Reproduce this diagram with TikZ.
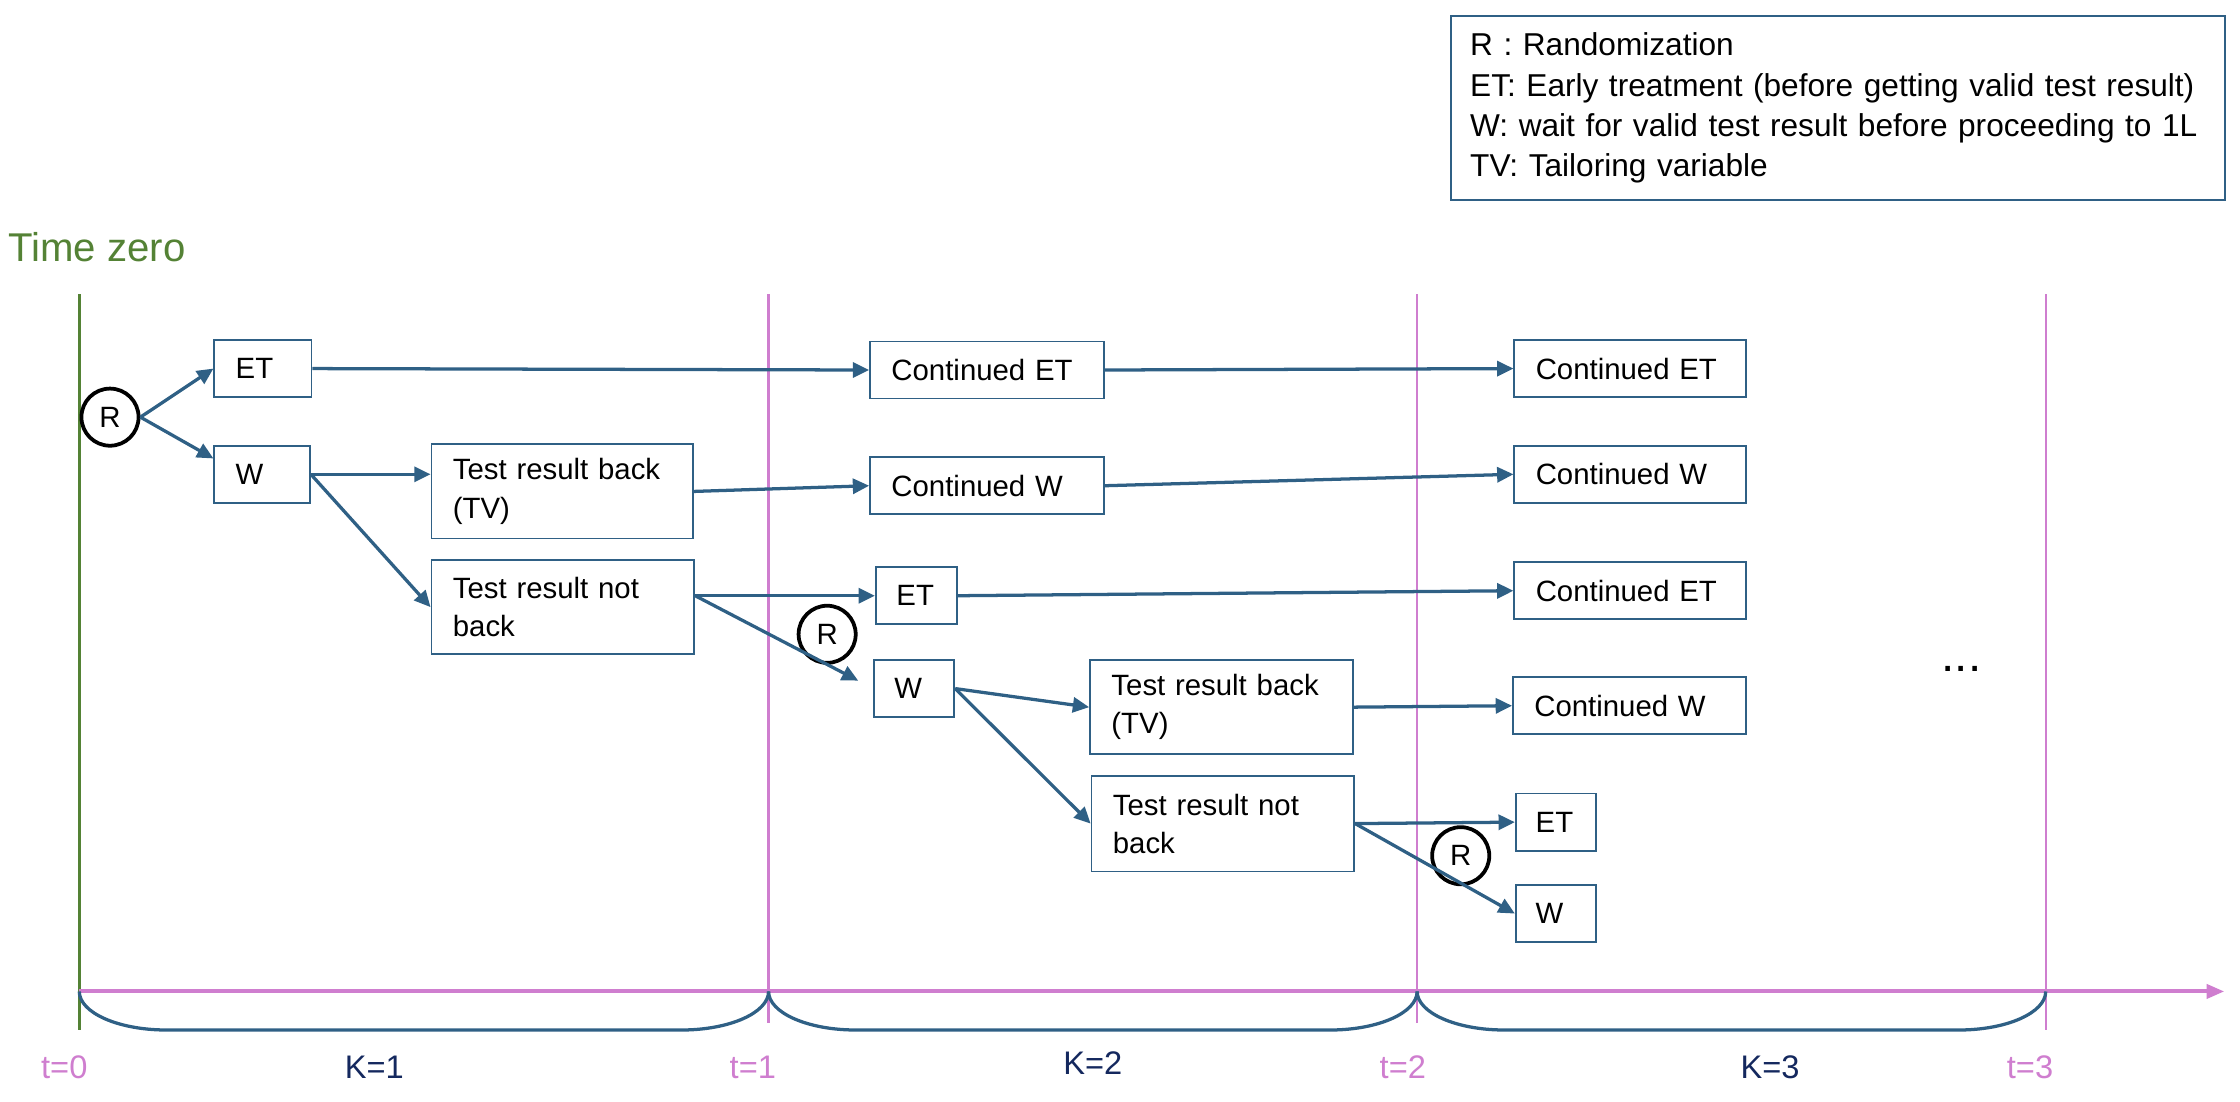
\documentclass[tikz,border=0pt]{standalone}
\usepackage{fontspec}
\setmainfont{Liberation Sans}
\usepackage{xcolor}
\usetikzlibrary{arrows.meta}

\definecolor{boxblue}{HTML}{2F6085}
\definecolor{timegreen}{HTML}{548235}
\definecolor{tpink}{HTML}{CF7ECF}
\definecolor{knavy}{HTML}{14285E}

\begin{document}
\begin{tikzpicture}[x=0.02cm, y=-0.02cm,
    stage/.style={draw=boxblue, line width=0.7pt, inner xsep=0.3cm, inner ysep=0pt,
        minimum height=0.8cm, text width=#1, align=left, font=\fontsize{11.7}{15.2}\selectfont},
    rand/.style={circle, draw=black, line width=1.5pt, minimum size=0.8cm, inner sep=0pt,
        font=\fontsize{11.7}{14}\selectfont},
    flow/.style={draw=boxblue, line width=1.3pt, -{Triangle[length=6.5pt, width=6pt]}},
    period/.style={draw=boxblue, line width=1.3pt},
    tick/.style={draw=tpink, line width=0.9pt},
    tlabel/.style={text=tpink, inner sep=0pt, font=\fontsize{13}{15}\selectfont},
    klabel/.style={text=knavy, inner sep=0pt, font=\fontsize{13}{15}\selectfont}]

    \useasboundingbox (0,0) rectangle (1568,771);

    % time axis
    \coordinate (t0) at (55.5,694);
    \coordinate (t1) at (538,694);
    \coordinate (t2) at (992,694);
    \coordinate (t3) at (1432,694);
    \coordinate (tend) at (1557,694);

    \draw[timegreen, line width=1pt] (55.5,206) -- (55.5,721);
    \foreach \x/\e in {538/716, 992/716, 1432/721}
        \draw[tick] (\x,206) -- (\x,\e);
    \draw[tpink, line width=1.6pt, -{Triangle[length=7pt, width=5.5pt]}] (t0) -- (tend);

    \foreach \xa/\xb in {55.5/538, 538/992, 992/1432}
        \draw[period] (\xa,694) arc[start angle=180, end angle=270, x radius=1.22cm, y radius=0.54cm]
            -- (\xb-61,721) arc[start angle=270, end angle=360, x radius=1.22cm, y radius=0.54cm];

    \node[tlabel] (l0) at (45,747) {t=0};
    \node[klabel] (k1) at (262,747) {K=1};
    \node[tlabel] (l1) at (527,747) {t=1};
    \node[klabel] (k2) at (765,744) {K=2};
    \node[tlabel] (l2) at (982,747) {t=2};
    \node[klabel] (k3) at (1239,747) {K=3};
    \node[tlabel] (l3) at (1421,747) {t=3};

    \node[text=timegreen, anchor=west, inner sep=0pt, font=\fontsize{16}{19}\selectfont] (tz) at (5.5,173) {Time zero};

    % legend
    \node[draw=boxblue, line width=0.7pt, anchor=north west, inner xsep=0.27cm, minimum height=2.58cm,
        text width=10.3cm, align=left, font=\fontsize{12.6}{16}\selectfont] (legend) at (1015,10.5)
        {R : Randomization\\
         ET: Early treatment (before getting valid test result)\\
         W: wait for valid test result before proceeding to 1L\\
         TV: Tailoring variable};

    % first period
    \node[rand] (R0) at (77,292) {R};
    \node[stage=0.76cm] (ET0) at (184,258) {ET};
    \node[stage=0.74cm] (W0) at (183.5,332) {W};
    \node[stage=3.06cm, minimum height=1.32cm] (TB1) at (393.5,344) {Test result back\\(TV)};
    \node[stage=3.08cm, minimum height=1.32cm] (TN1) at (394,425) {Test result not\\back};

    % second period
    \node[stage=2.68cm] (CET1) at (691,259) {Continued ET};
    \node[stage=2.68cm] (CW1) at (691,340) {Continued W};
    \node[stage=0.56cm, inner xsep=0.29cm] (ET1) at (641.5,417) {ET};
    \node[rand] (R1) at (579,444) {R};
    \node[stage=0.56cm, inner xsep=0.28cm] (W1) at (640,482) {W};
    \node[stage=3.08cm, minimum height=1.32cm] (TB2) at (855,495) {Test result back\\(TV)};
    \node[stage=3.08cm, minimum height=1.34cm] (TN2) at (856,576.5) {Test result not\\back};

    % third period
    \node[stage=2.64cm] (CET2) at (1141,258) {Continued ET};
    \node[stage=2.64cm] (CW2) at (1141,332) {Continued W};
    \node[stage=2.64cm] (CET3) at (1141,413.5) {Continued ET};
    \node[stage=2.66cm] (CW3) at (1140.5,494) {Continued W};
    \node[stage=0.56cm, inner xsep=0.28cm] (ET2) at (1089,575.5) {ET};
    \node[stage=0.56cm, inner xsep=0.28cm] (W2) at (1089,639.5) {W};
    \node[rand] (R2) at (1022.5,599) {R};

    \node[inner sep=0pt, font=\fontsize{19}{21}\selectfont] (more) at (1373,468) {...};

    \draw[flow] (R0.east) -- (ET0.west);
    \draw[flow] (R0.east) -- (W0.162);
    \draw[flow] (W0.east) -- (TB1.west |- W0.east);
    \draw[flow] (W0.east) -- (TN1.west);
    \draw[flow] (ET0.east) -- (CET1.west);
    \draw[flow] (TB1.east) -- (CW1.west);
    \draw[flow] (CET1.east) -- (CET2.west);
    \draw[flow] (CW1.east) -- (CW2.west);

    \coordinate (TN1out) at (TN1.east |- ET1.west);
    \draw[flow] (TN1out) -- (ET1.west);
    \draw[flow, shorten >=0.24cm] (TN1out) -- (W1.west);
    \draw[flow] (ET1.east) -- (CET3.west);
    \draw[flow] (W1.east) -- (TB2.west);
    \draw[flow] (W1.east) -- (TN2.west);
    \draw[flow] (TB2.east) -- (CW3.west);
    \draw[flow] (TN2.east) -- (ET2.west);
    \draw[flow] (TN2.east) -- (W2.west);

\end{tikzpicture}
\end{document}
